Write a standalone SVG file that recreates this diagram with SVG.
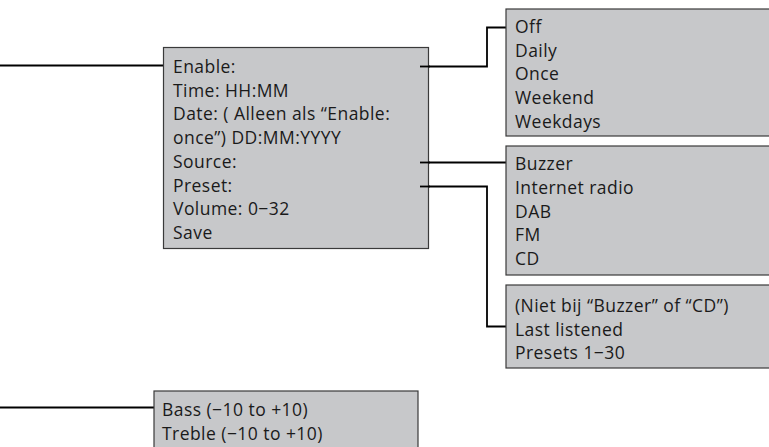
<svg xmlns="http://www.w3.org/2000/svg" width="769" height="447" viewBox="0 0 769 447">
<style>
.box{fill:#c7c8ca;stroke:#3a3a3a;stroke-width:1.2}
.t{font-family:"Open Sans","Liberation Sans",Arial,sans-serif;font-size:17.5px;letter-spacing:0.45px;fill:#1a1a1a}
.c{fill:none;stroke:#000;stroke-width:1.8}
</style>
<rect width="769" height="447" fill="#fff"/>
<g id="connectors">
<path class="c" d="M0 65.5H163.5"/>
<path class="c" d="M420 66.5H487V27.5H506"/>
<path class="c" d="M420 162.5H506"/>
<path class="c" d="M420 186.5H487V326.5H506"/>
<path class="c" d="M0 407.5H154"/>
</g>
<g id="alarm">
<rect class="box" x="163.5" y="47.5" width="265" height="201"/>
<text class="t" x="173" y="73">Enable:</text>
<text class="t" x="173" y="96.7">Time: HH:MM</text>
<text class="t" x="173" y="120.4">Date: ( Alleen als “Enable:</text>
<text class="t" x="173" y="144.1">once”) DD:MM:YYYY</text>
<text class="t" x="173" y="167.8">Source:</text>
<text class="t" x="173" y="191.5">Preset:</text>
<text class="t" x="173" y="215.2">Volume: 0−32</text>
<text class="t" x="173" y="238.9">Save</text>
</g>
<g id="ticks">
<path class="c" d="M420 66.5H430"/>
<path class="c" d="M420 162.5H430"/>
<path class="c" d="M420 186.5H430"/>
</g>
<g id="enable">
<rect class="box" x="506" y="9" width="270" height="127"/>
<text class="t" x="515" y="33">Off</text>
<text class="t" x="515" y="56.7">Daily</text>
<text class="t" x="515" y="80.4">Once</text>
<text class="t" x="515" y="104.1">Weekend</text>
<text class="t" x="515" y="127.8">Weekdays</text>
</g>
<g id="source">
<rect class="box" x="506" y="146" width="270" height="129"/>
<text class="t" x="515" y="170.3">Buzzer</text>
<text class="t" x="515" y="194">Internet radio</text>
<text class="t" x="515" y="217.7">DAB</text>
<text class="t" x="515" y="241.4">FM</text>
<text class="t" x="515" y="265.1">CD</text>
</g>
<g id="preset">
<rect class="box" x="506" y="285" width="270" height="83"/>
<text class="t" x="515" y="312">(Niet bij “Buzzer” of “CD”)</text>
<text class="t" x="515" y="335.7">Last listened</text>
<text class="t" x="515" y="359.4">Presets 1−30</text>
</g>
<g id="eq">
<rect class="box" x="154" y="391" width="264" height="70"/>
<text class="t" x="162" y="416">Bass (−10 to +10)</text>
<text class="t" x="162" y="440">Treble (−10 to +10)</text>
</g>
</svg>
